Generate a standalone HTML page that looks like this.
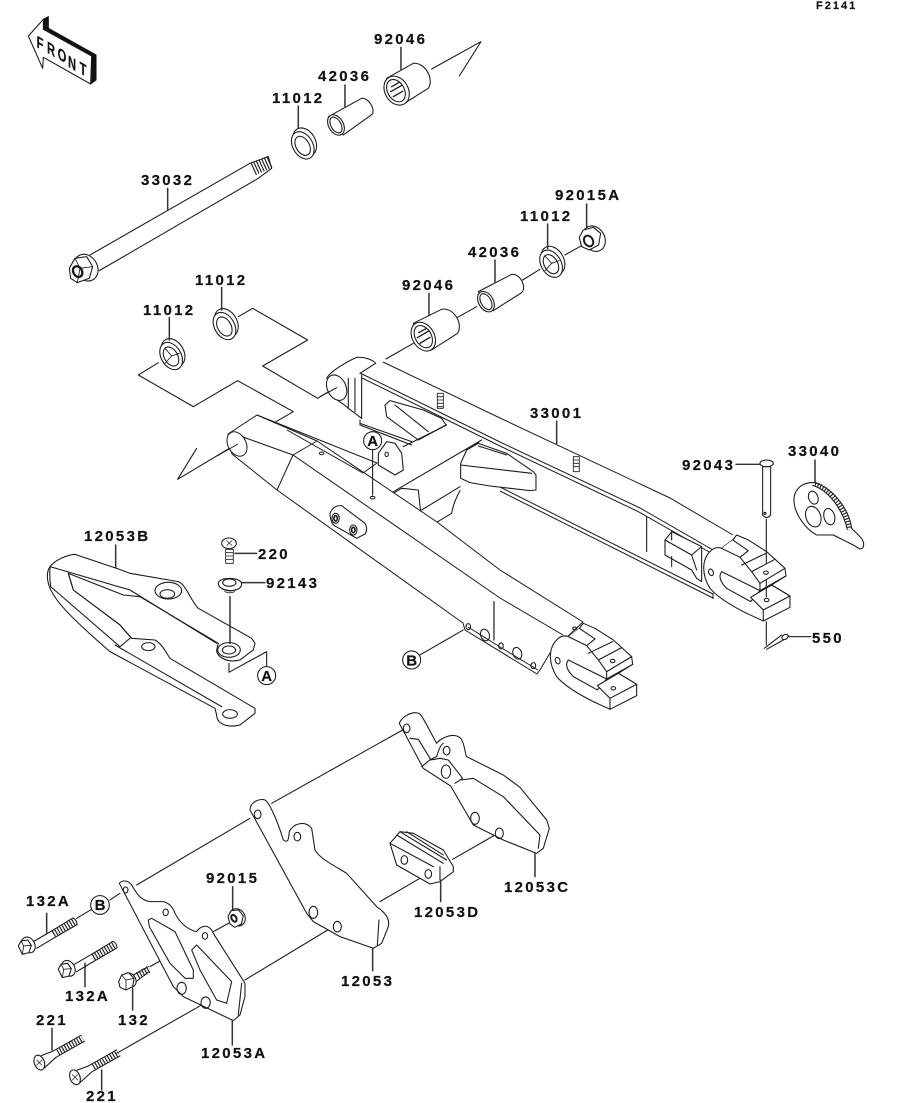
<!DOCTYPE html>
<html><head><meta charset="utf-8"><style>
html,body{margin:0;padding:0;background:#fff}
svg{display:block}
text{font-family:"Liberation Sans",sans-serif;font-weight:700;fill:#111;stroke:#111;stroke-width:.2}
.t{font-size:15px;letter-spacing:2.3px}
.c{font-size:15px;text-anchor:middle}
.z{fill:none;stroke:#1a1a1a;stroke-width:3.2;stroke-linejoin:round;stroke-linecap:round}
.w{fill:#fff}
.th{fill:none;stroke-linecap:butt;stroke-dasharray:3.5 5;stroke:#222}
</style></head><body>
<svg width="914" height="1103" viewBox="0 0 914 1103" xmlns="http://www.w3.org/2000/svg">
<rect width="914" height="1103" fill="#fff"/>
<defs>
<g id="seal" class="z">
<ellipse cx="7" cy="-4" rx="32" ry="45" transform="rotate(-30)" class="w"/>
<ellipse cx="-3" cy="2" rx="30" ry="44" transform="rotate(-30)" class="w"/>
<ellipse cx="-4" cy="3" rx="20" ry="31" transform="rotate(-30)"/>
</g>
<g id="fork" class="z">
<path class="w" d="M665,445Q645,438 630,455C605,480 605,525 630,565Q660,600 740,640L790,663L870,622V588L815,555L858,528L855,505L800,455L745,420L710,405L698,420Z"/>
<path class="w" d="M698,420L745,452L720,472L665,445"/>
<path d="M725,495L798,460M755,515L825,478M755,515L780,550V572L858,528M780,550L855,505M720,472L755,515"/>
<path class="w" d="M665,515L780,572L752,605L680,565Q650,535 665,515Z"/>
<path class="w" d="M752,592L815,555L870,588L790,630Z"/>
<path d="M790,630V663"/>
<ellipse cx="798" cy="518" rx="7" ry="5"/><ellipse cx="800" cy="600" rx="7" ry="5"/>
<ellipse cx="633" cy="517" rx="7" ry="10" transform="rotate(-20 633 517)"/>
</g>
<g id="bolt" class="z">
<path d="M25,-17L85,-52M35,3L85,-27"/>
<path class="th" stroke-width="24" d="M85,-40L150,-78"/>
<path d="M85,-52L144,-88Q156,-82 156,-68L85,-27"/>
<ellipse cx="10" cy="-7" rx="19" ry="25" class="w" transform="rotate(-30 10 -7)"/>
<path class="w" d="M-20,-4L-12,-19L8,-22L19,-6L12,16L-8,21Z"/>
<path d="M-12,-19L-4,-4L19,-6M-4,-4L-8,21" stroke-width="2.5"/>
</g>
<g id="cs" class="z">
<ellipse cx="0" cy="0" rx="15" ry="23" class="w" transform="rotate(-20)"/>
<path d="M-8,-8L8,8M8,-8L-8,8" stroke-width="2"/>
<path d="M6,-21L40,-34L125,-82M14,17L50,-16L135,-64"/>
<path class="th" stroke-width="20" d="M55,-31L130,-73"/>
</g>
</defs>

<text x="816" y="9" style="font-size:11px;letter-spacing:2px">F2141</text>

<!-- z6 top hardware -->
<g transform="scale(.3333)" class="z">
<path fill="#111" stroke="#111" d="M130,58L145,50V85L288,165V240L272,252V170L132,88Z"/>
<path class="w" d="M85,108L130,58V88L275,168L272,252L130,172L128,205Z"/>
<path d="M270,765L750,490M298,812L775,535"/>
<path class="th" stroke-width="38" d="M760,508L810,485"/>
<path d="M750,490L805,470L815,505L775,535"/>
<ellipse cx="258" cy="803" rx="34" ry="42" class="w" transform="rotate(-30 258 803)"/>
<path class="w" d="M208,805L225,775L260,770L278,800L268,835L232,848L212,835Z"/>
<path d="M225,775L240,805L278,800M240,805L232,848" stroke-width="2.5"/>
<ellipse cx="233" cy="815" rx="13" ry="17" stroke-width="7" transform="rotate(-30 233 815)"/>
<use href="#seal" x="910" y="433"/>
<path class="w" d="M985,350L1085,295A22 32 -30 0 1 1118,342L1030,405Z"/>
<ellipse cx="1008" cy="375" rx="22" ry="33" class="w" transform="rotate(-30 1008 375)"/>
<ellipse cx="1008" cy="375" rx="15" ry="26" transform="rotate(-30 1008 375)"/>
<path class="w" d="M1160,235L1240,190A34 46 -30 0 1 1285,265L1205,315Z"/>
<ellipse cx="1190" cy="272" rx="35" ry="46" class="w" transform="rotate(-30 1190 272)"/>
<ellipse cx="1188" cy="272" rx="25" ry="36" transform="rotate(-30 1188 272)"/>
<path d="M1175,260L1198,247M1172,275L1206,256M1180,290L1208,274" stroke-width="4"/>
<path d="M1295,207L1443,125L1378,228"/>
<path d="M1203,142V210M1035,255V320M895,318V385M503,565V630" stroke="#333" stroke-width="4.5"/>
</g>
<g style="font-size:14px">
<text text-anchor="middle" transform="translate(40,49) skewY(30) scale(.8,1.2)">F</text>
<text text-anchor="middle" transform="translate(51,55) skewY(30) scale(.8,1.2)">R</text>
<text text-anchor="middle" transform="translate(62,61) skewY(30) scale(.8,1.2)">O</text>
<text text-anchor="middle" transform="translate(72,69) skewY(30) scale(.8,1.2)">N</text>
<text text-anchor="middle" transform="translate(83,75) skewY(30) scale(.8,1.2)">T</text>
</g>

<!-- z7 middle hardware -->
<g transform="translate(130,180) scale(.3333)" class="z">
<use href="#seal" x="285" y="435"/>
<use href="#seal" x="125" y="525"/>
<path d="M105,505L125,528L105,550M125,528L148,520" stroke-width="2.5"/>
<use href="#seal" x="1265" y="248"/>
<path d="M1245,228L1265,250L1245,272M1265,250L1288,242" stroke-width="2.5"/>
<ellipse cx="1392" cy="176" rx="32" ry="40" class="w" transform="rotate(-30 1392 176)"/>
<path class="w" d="M1348,172L1360,150L1390,142L1412,160L1406,195L1378,210L1355,200Z"/>
<ellipse cx="1376" cy="183" rx="13" ry="17" stroke-width="6" transform="rotate(-30 1376 183)"/>
<path class="w" d="M1045,335L1145,283A22 32 -30 0 1 1175,338L1090,392Z"/>
<ellipse cx="1068" cy="365" rx="22" ry="33" class="w" transform="rotate(-30 1068 365)"/>
<ellipse cx="1068" cy="365" rx="15" ry="26" transform="rotate(-30 1068 365)"/>
<path class="w" d="M850,430L935,388A33 45 -30 0 1 983,460L905,510Z"/>
<ellipse cx="880" cy="470" rx="33" ry="46" class="w" transform="rotate(-30 880 470)"/>
<ellipse cx="880" cy="470" rx="24" ry="36" transform="rotate(-30 880 470)"/>
<path d="M866,458L890,445M862,473L898,452M870,490L900,472" stroke-width="4"/>
<path d="M118,412V480M275,322V390M897,340V405M1095,240V305M1253,132V205M1370,72V140" stroke="#333" stroke-width="4.5"/>
<path d="M1305,225L1355,197M1178,300L1230,268M983,412L1040,380M768,537L850,490"/>
<path d="M325,410L368,385L533,480L398,558L563,655L620,620"/>
<path d="M85,548L25,585L190,680"/>
</g>

<!-- connector z1 group -->
<g transform="translate(130,340) scale(.3333)" class="z">
<path d="M190,200L323,122L490,215L438,245"/>
<path d="M200,325L143,418L320,312"/>
</g>

<!-- rear arm -->
<g transform="translate(130,340) scale(.3333)" class="z">
<path d="M590,115C600,95 650,65 680,52C705,50 730,60 737,70L690,100M600,160C610,175 640,190 655,205L695,235"/>
<ellipse cx="620" cy="143" rx="28" ry="40" class="w" transform="rotate(-25 620 143)"/>
<path d="M655,115V205M675,115V215M695,105V235"/>
<path d="M620,143L570,170"/>
</g>
<path fill="none" stroke="#1a1a1a" stroke-width="1" d="M383,362L500,418L670,498L733,535M360,373L500,442L640,508L713,550M362,378L500,446L637,511L711,553M500,487L713,594M500,491L713,598M713,593V599"/>
<g transform="translate(340,360) scale(.3333)" class="z">
<path class="w" d="M135,135L150,122L250,150L305,175L318,195L235,240L140,170Z"/>
<path d="M165,135L265,215"/>
<path d="M60,180V195L215,255M60,190L215,245"/>
<path d="M190,260L320,195M155,398L425,240M395,265L420,243"/>
<path d="M160,400L185,385L235,390L242,455M245,450L360,380M285,490L335,460C340,430 350,410 360,392"/>
<path class="w" d="M362,310L380,270L415,250L500,280L580,335L588,345V390L570,392L450,378L390,368L362,355Z"/>
<path d="M362,315L575,340M415,258L500,285"/>
<path class="w" d="M115,280L140,245L165,250L185,280L190,330L165,345L115,315Z"/>
<ellipse cx="140" cy="283" rx="5" ry="7"/>
<path d="M292,100H310V145H292ZM292,110H310M292,120H310M292,130H310M292,140H310" stroke-width="2.5"/>
<path d="M700,290H718V335H700ZM700,300H718M700,310H718M700,320H718" stroke-width="2.5"/>
<path d="M650,183V250" stroke="#333" stroke-width="4.5"/>
</g>

<!-- rear parts z2 -->
<g transform="translate(500,400) scale(.3333)" class="z">
<path d="M440,350V455"/>
<path class="w" d="M495,420L515,395L605,440V545L590,535L575,510L495,465Z"/>
<path d="M495,420L575,465L605,440M575,465L590,510M515,395V420M515,470V500"/>
<use href="#fork"/>
<path d="M708,193H782M865,710H932" stroke="#333" stroke-width="4"/>
<ellipse cx="800" cy="190" rx="20" ry="10" class="w"/>
<path class="w" d="M788,200H812V345Q800,360 788,345Z"/>
<circle cx="795" cy="340" r="3"/>
<path d="M799,358V490M799,540V590M799,665V735"/>
<path d="M793,745L845,705M800,748L850,720"/>
<ellipse cx="855" cy="711" rx="10" ry="7" class="w" transform="rotate(-30 855 711)"/>
<path d="M945,180V245" stroke="#333" stroke-width="4.5"/>
<path class="w" d="M945,248C905,245 880,270 882,305C885,345 920,390 950,405L1000,405L1060,435L1080,447C1095,445 1095,425 1080,410L1055,385C1050,340 1010,270 945,248Z"/>
<path d="M938,256C990,272 1030,335 1042,388"/>
<path class="th" stroke-width="14" stroke-dasharray="3 5" d="M945,252C1000,268 1042,340 1049,388"/>
<ellipse cx="940" cy="293" rx="14" ry="20" transform="rotate(-20 940 293)"/>
<ellipse cx="940" cy="350" rx="22" ry="32" transform="rotate(-20 940 350)"/>
<ellipse cx="988" cy="350" rx="16" ry="25" transform="rotate(-15 988 350)"/>
</g>

<!-- front arm -->
<path fill="#fff" stroke="#1a1a1a" stroke-width="1" stroke-linejoin="round" d="M228,434L257,415L317,441L437,522L500,570L583,622L550,653L540,670L537,674L465,630L463,623L277,490L232,454Z"/>
<ellipse cx="237" cy="444" rx="9" ry="13" fill="#fff" stroke="#1a1a1a" transform="rotate(-28 237 444)"/>
<path fill="none" stroke="#1a1a1a" stroke-width="1" d="M243,437L293,455L500,598L563,635M293,455L277,490M293,455L317,441M257,415L377,463L363,473L287,430M238,444L217,456M468,627L500,647L538,670"/>
<g transform="translate(500,400) scale(.3333)"><use href="#fork" x="-460" y="265"/></g>
<g transform="translate(130,340) scale(.3333)" class="z">
<ellipse cx="575" cy="340" rx="7" ry="4" stroke-width="3"/>
<ellipse cx="728" cy="473" rx="7" ry="4"/>
<path d="M728,330V465"/>
<circle cx="728" cy="302" r="27" class="w"/>
<path class="w" d="M600,520Q610,495 635,497L705,550Q715,570 705,582L680,595L610,555Q600,540 600,520Z"/>
<ellipse cx="617" cy="535" rx="11" ry="15"/>
<ellipse cx="617" cy="535" rx="5" ry="8" stroke-width="5"/>
<ellipse cx="670" cy="570" rx="11" ry="15"/>
<ellipse cx="670" cy="570" rx="5" ry="8" stroke-width="5"/>
<ellipse cx="1015" cy="860" rx="7" ry="9"/>
<ellipse cx="1065" cy="885" rx="13" ry="18" transform="rotate(-20 1065 885)"/>
<ellipse cx="1113" cy="918" rx="7" ry="9"/>
<ellipse cx="1162" cy="940" rx="13" ry="18" transform="rotate(-20 1162 940)"/>
<path d="M1092,785V900" stroke="#333" stroke-width="4"/>
<path d="M870,945L1000,870"/>
<circle cx="845" cy="960" r="27" class="w"/>
</g>
<text class="c" x="372.7" y="446">A</text>
<text class="c" x="411.7" y="665.500">B</text>
<g transform="translate(500,400) scale(.3333)" class="z">
<ellipse cx="100" cy="797" rx="7" ry="9"/>
<ellipse cx="224" cy="685" rx="6" ry="4"/>
</g>

<!-- 12053B z5 -->
<g transform="translate(30,510) scale(.3333)" class="z">
<path d="M257,105V175" stroke="#333" stroke-width="4.5"/>
<path class="w" d="M60,170C75,150 110,135 135,133L260,175L300,190L445,215C470,225 480,270 505,295L665,385L675,400L670,420L630,450C590,460 560,440 560,420L565,400L330,260L280,255L115,190L130,240L270,345L305,385L375,390C395,400 410,430 420,445L675,595V610L630,645C590,655 560,640 560,615L555,595L240,425C90,295 55,250 52,200Q52,180 60,170Z"/>
<path d="M60,170L300,240L560,400M60,170Q58,200 62,230L270,410L300,385M255,405L575,590"/>
<path d="M115,190L130,240L270,345L305,385"/>
<ellipse cx="415" cy="242" rx="40" ry="25"/>
<ellipse cx="412" cy="252" rx="22" ry="13"/>
<ellipse cx="597" cy="420" rx="34" ry="22"/>
<ellipse cx="597" cy="420" rx="20" ry="12"/>
<ellipse cx="355" cy="410" rx="20" ry="12"/>
<ellipse cx="600" cy="612" rx="22" ry="13"/>
<path d="M600,260V400" stroke="#333" stroke-width="4.5"/>
<path d="M597,460V487L710,425V470"/>
<circle cx="710" cy="497" r="27" class="w"/>
<ellipse cx="597" cy="100" rx="22" ry="16"/>
<path d="M590,92L606,106M606,92L590,106" stroke-width="2"/>
<path d="M587,118H610V160H587ZM587,128H610M587,138H610M587,148H610" stroke-width="2.5"/>
<path d="M615,130H680M635,218H705" stroke="#333" stroke-width="4.5"/>
<path class="w" d="M565,220C565,200 635,200 635,222C635,240 605,245 590,240C575,238 565,230 565,220Z"/>
<ellipse cx="598" cy="218" rx="20" ry="11"/>
<path d="M580,238Q600,248 618,238M584,245Q600,252 614,245" stroke-width="2.5"/>
</g>
<text class="c" x="266.700" y="681">A</text>

<!-- lower connectors and parts z3 -->
<g transform="translate(0,700) scale(.3333)" class="z">
<path d="M410,555L750,355M735,840L1000,680M640,695L695,665M450,800L610,710M350,1060L605,915M230,655L275,628M330,600L360,580"/>
</g>
<g transform="translate(240,700) scale(.3333)" class="z">
<path d="M95,310L488,90M420,605L548,530M638,478L765,405"/>
<path class="w" d="M30,330C30,305 60,295 75,300C90,310 115,370 130,420C145,430 145,420 148,395C160,370 195,360 215,385L225,450C240,475 270,490 320,520L410,620C440,640 450,660 445,680L425,730L400,745L300,710L220,665L200,640Z"/>
<path d="M417,660L412,735"/>
<ellipse cx="53" cy="343" rx="10" ry="13"/>
<ellipse cx="172" cy="410" rx="10" ry="13"/>
<ellipse cx="220" cy="637" rx="13" ry="18"/>
<ellipse cx="292" cy="680" rx="12" ry="16"/>
<path d="M398,745V812" stroke="#333" stroke-width="4.500"/>
<path class="w" d="M478,70C485,50 520,30 540,42C555,60 575,105 590,130C600,115 640,95 662,115C675,130 675,165 680,170L790,225L840,262L920,360L928,385L910,445L890,460L790,420L700,375L632,258L550,205Z"/>
<path d="M510,115L535,118L572,178L590,170Q600,135 610,130M572,178L545,200M572,180L600,175L625,180L668,235L645,250M665,240L700,235L790,290L900,405L895,445"/>
<ellipse cx="500" cy="85" rx="10" ry="13"/>
<ellipse cx="620" cy="152" rx="10" ry="13"/>
<ellipse cx="705" cy="355" rx="13" ry="18"/>
<ellipse cx="778" cy="400" rx="12" ry="16"/>
<ellipse cx="618" cy="215" rx="14" ry="20"/>
<path d="M885,460V530" stroke="#333" stroke-width="4.500"/>
<path class="w" d="M450,430L480,395L520,400L610,450L640,500V515L600,545L570,552L470,495Z"/>
<path d="M470,405L610,490M480,395L620,480M500,395L610,465M600,500V540M450,430L580,500"/>
<ellipse cx="493" cy="480" rx="10" ry="13"/>
<ellipse cx="565" cy="522" rx="10" ry="13"/>
<path d="M602,540V605" stroke="#333" stroke-width="4.500"/>
</g>
<g transform="translate(0,700) scale(.3333)" class="z">
<path class="w" d="M358,550C365,540 385,540 395,555C410,580 420,600 450,605L490,605C510,610 520,625 525,640C540,670 565,690 590,695C600,680 620,670 635,690L640,700L735,850V890L720,945L700,962L550,890L520,860Z"/>
<path d="M445,660L455,655L525,695L580,810V835H555L510,790L448,680Z"/>
<path d="M575,750L590,735L695,845L680,910L650,900L600,810Z"/>
<path d="M725,850L715,945"/>
<ellipse cx="377" cy="570" rx="7" ry="9"/>
<ellipse cx="497" cy="637" rx="8" ry="10"/>
<ellipse cx="615" cy="708" rx="8" ry="10"/>
<ellipse cx="545" cy="865" rx="14" ry="18"/>
<ellipse cx="617" cy="908" rx="14" ry="17"/>
<path d="M697,962V1035M140,640V700M255,790V860M398,865V930M156,985V1050M305,1110V1170M698,560V630" stroke="#333" stroke-width="4.500"/>
<circle cx="300" cy="615" r="28" class="w"/>
<use href="#bolt" x="75" y="742"/>
<use href="#bolt" x="195" y="812"/>
<path d="M400,825L445,800M408,845L447,815"/>
<path class="th" stroke-width="22" d="M413,827L447,808"/>
<ellipse cx="390" cy="840" rx="17" ry="22" class="w" transform="rotate(-30 390 840)"/>
<path class="w" d="M356,845L365,825L385,818L402,835L398,860L378,870L360,862Z"/>
<path d="M365,825L378,840L402,835M378,840L378,870" stroke-width="2.5"/>
<use href="#cs" x="118" y="1088"/>
<use href="#cs" x="225" y="1132"/>
<ellipse cx="712" cy="652" rx="23" ry="27" class="w" transform="rotate(-30 712 652)"/>
<path class="w" d="M684,650L694,632L716,630L730,648L724,672L704,682L690,672Z"/>
<ellipse cx="702" cy="655" rx="7" ry="11" stroke-width="6" transform="rotate(-30 702 655)"/>
</g>
<text class="c" x="100" y="910">B</text>

<g>
<text class="t" x="374" y="44">92046</text>
<text class="t" x="318" y="81">42036</text>
<text class="t" x="272" y="103">11012</text>
<text class="t" x="141" y="185">33032</text>
<text class="t" x="555" y="200">92015A</text>
<text class="t" x="520" y="221">11012</text>
<text class="t" x="468" y="257">42036</text>
<text class="t" x="402" y="290">92046</text>
<text class="t" x="195" y="285">11012</text>
<text class="t" x="143" y="315">11012</text>
<text class="t" x="530" y="418">33001</text>
<text class="t" x="682" y="470">92043</text>
<text class="t" x="788" y="456">33040</text>
<text class="t" x="84" y="541">12053B</text>
<text class="t" x="258" y="559">220</text>
<text class="t" x="266" y="588">92143</text>
<text class="t" x="812" y="643">550</text>
<text class="t" x="206" y="883">92015</text>
<text class="t" x="26" y="906">132A</text>
<text class="t" x="65" y="1001">132A</text>
<text class="t" x="118" y="1025">132</text>
<text class="t" x="36" y="1025">221</text>
<text class="t" x="86" y="1101">221</text>
<text class="t" x="201" y="1058">12053A</text>
<text class="t" x="341" y="986">12053</text>
<text class="t" x="414" y="917">12053D</text>
<text class="t" x="504" y="892">12053C</text>
</g>
</svg>
</body></html>
